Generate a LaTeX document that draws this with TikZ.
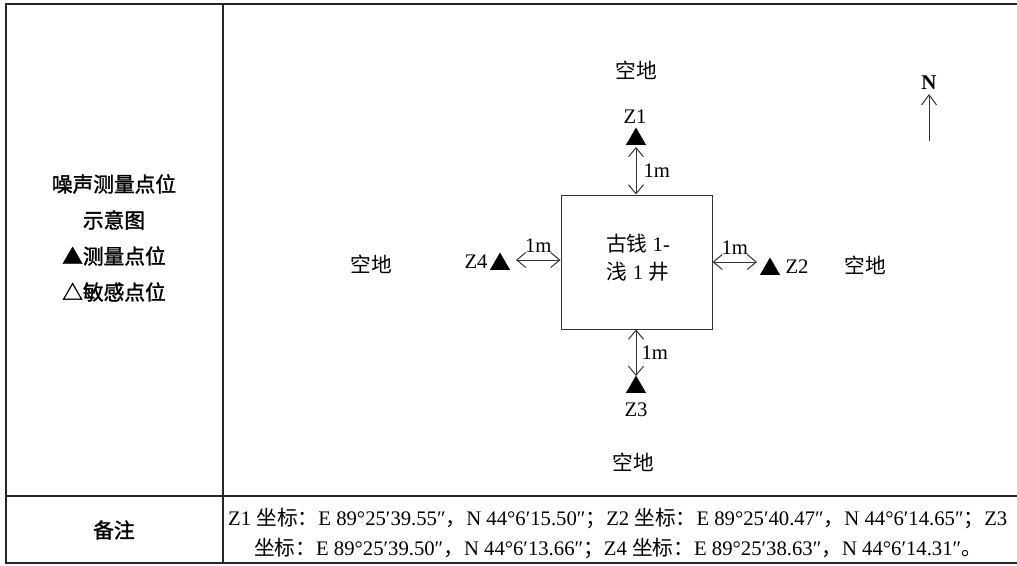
\documentclass[tikz,border=0pt]{standalone}
\usepackage{fontspec}
\setmainfont{Liberation Serif}
\newfontfamily\cjk{Noto Sans CJK SC}
\newfontfamily\cjkb[FakeBold=1.6]{Noto Sans CJK SC}
\usetikzlibrary{arrows.meta,shapes.geometric}
\newcommand{\zh}[1]{{\cjk #1}}
\newcommand{\zhb}[1]{{\cjkb #1}}
\tikzset{
  txt/.style={font=\fontsize{20.7}{24}\selectfont, inner sep=0pt},
  lbl/.style={font=\fontsize{20.7}{24}\selectfont, inner sep=0pt},
  tri/.style={regular polygon, regular polygon sides=3, fill=black, inner sep=0pt, minimum size=23pt},
  barb/.style={Straight Barb[length=9pt,width=15pt]},
  dim/.style={draw=black!80, line width=1pt, {Straight Barb[length=9pt,width=15pt]}-{Straight Barb[length=9pt,width=15pt]}},
  grid/.style={draw=black!85, line width=1.2pt},
}
\begin{document}
\begin{tikzpicture}[x=1pt,y=-1pt]
\useasboundingbox (0,0) rectangle (1017,565);
% table
\draw[grid] (1017,4) -- (6,4) -- (6,563) -- (1017,563);
\draw[grid] (6,496) -- (1017,496);
\draw[grid] (223,4) -- (223,563);
% left column
\node[txt] (t1) at (114,184) {\zhb{噪声测量点位}};
\node[txt] (t2) at (114,220) {\zhb{示意图}};
\node[txt] (t3) at (114,256) {\zhb{▲测量点位}};
\node[txt] (t4) at (114,292) {\zhb{△敏感点位}};
\node[txt] (t5) at (114,530) {\zhb{备注}};
% notes
\node[txt, anchor=west] (n1) at (228,518) {Z1 \zh{坐标：}E 89°25′39.55″\zh{，}N 44°6′15.50″\zh{；}Z2 \zh{坐标：}E 89°25′40.47″\zh{，}N 44°6′14.65″\zh{；}Z3};
\node[txt] (n2) at (618,548) {\zh{坐标：}E 89°25′39.50″\zh{，}N 44°6′13.66″\zh{；}Z4 \zh{坐标：}E 89°25′38.63″\zh{，}N 44°6′14.31″\zh{。}};
% well box
\node[draw=black!80, line width=1pt, minimum width=151pt, minimum height=134pt, inner sep=0pt] (well) at (636.5,262) {};
\node[txt, align=center] (wt) at (638,257.5) {\zh{古钱} 1-\\[4pt]\zh{浅} 1 \zh{井}};
% empty land labels
\node[txt] (e1) at (636,70) {\zh{空地}};
\node[txt] (e2) at (371,264) {\zh{空地}};
\node[txt] (e3) at (865,265) {\zh{空地}};
\node[txt] (e4) at (633,462) {\zh{空地}};
% measurement points
\node[tri] (p1) at (636,139) {};
\node[lbl] (l1) at (635,117) {Z1};
\node[tri] (p3) at (636,387) {};
\node[lbl] (l3) at (636,410) {Z3};
\node[tri] (p4) at (500,264) {};
\node[lbl] (l4) at (476,262) {Z4};
\node[tri] (p2) at (770,269) {};
\node[lbl] (l2) at (797,267) {Z2};
% distance arrows
\coordinate (a1) at (636,147);
\draw[dim] (a1) -- (well.north -| a1) node[lbl, midway, right=7pt] {1m};
\coordinate (a3) at (636,376);
\draw[dim] (well.south -| a3) -- (a3) node[lbl, midway, right=5pt] {1m};
\coordinate (a4) at (516,260);
\draw[dim] (a4) -- (well.west |- a4) node[lbl, midway, above=7pt] {1m};
\coordinate (a2) at (757,262);
\draw[dim] (well.east |- a2) -- (a2) node[lbl, midway, above=7pt] {1m};
% north arrow
\node[lbl, font=\fontsize{21}{24}\selectfont\bfseries] (N) at (929,83) {N};
\coordinate (ns) at (929,141);
\draw[draw=black!80, line width=1pt, -{Straight Barb[length=10pt,width=15pt]}] (ns) -- ([yshift=-4pt]N.south);
\end{tikzpicture}
\end{document}
